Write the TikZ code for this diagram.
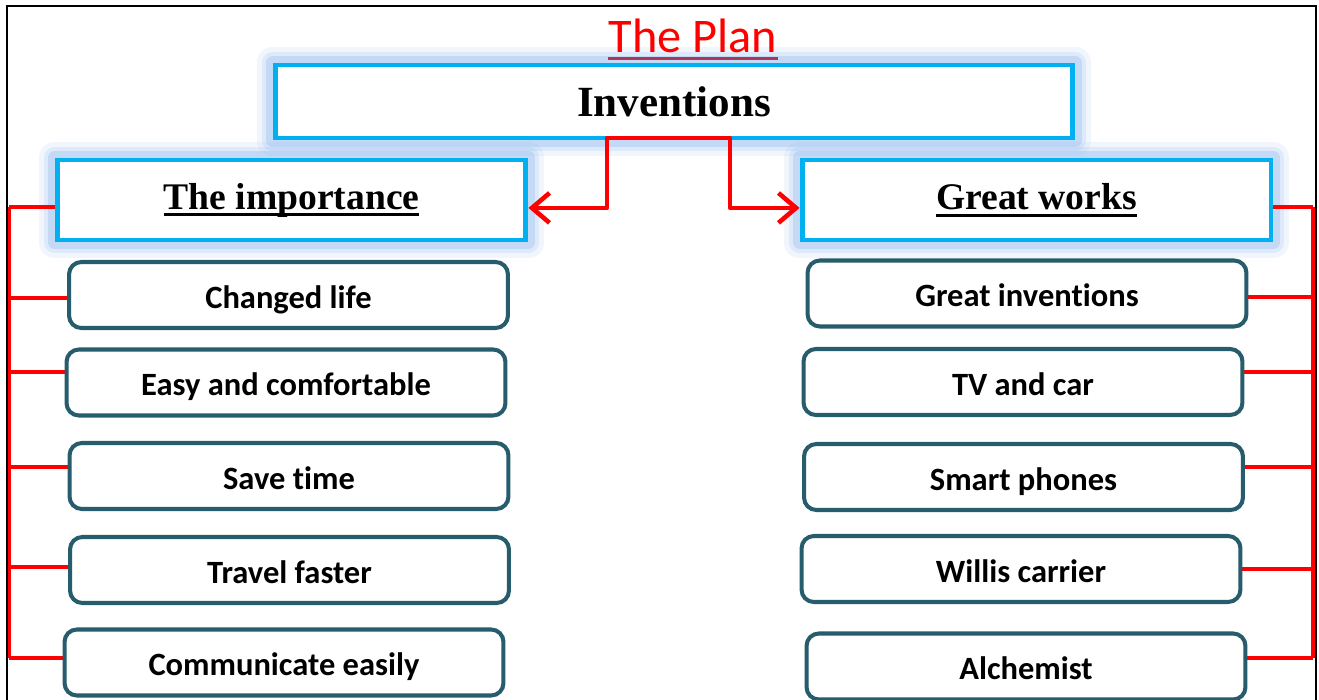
\documentclass[tikz,border=0pt]{standalone}
\usepackage{fontspec}
\setmainfont{Liberation Serif}
\newfontfamily\calibri[Ligatures=NoCommon]{Carlito}
\newcommand*{\undl}[1]{\setbox0\hbox{#1}\rlap{\rule[-4pt]{\wd0}{1.7pt}}\box0}
\usetikzlibrary{positioning,arrows.meta,backgrounds}
\tikzset{>=stealth}
\definecolor{boxblue}{RGB}{0,176,240}
\definecolor{glowblue}{RGB}{120,170,235}
\definecolor{tealline}{RGB}{38,92,108}
\definecolor{planline}{RGB}{170,55,90}
\tikzset{
  headbox/.style={draw=boxblue,line width=2.8pt,fill=white,inner sep=0pt,
    font=\bfseries\fontsize{21.4}{23}\selectfont},
  itembox/.style={draw=tealline,line width=2.3pt,rounded corners=7pt,fill=white,
    minimum width=8.78cm,minimum height=1.32cm,inner sep=0pt,
    text height=16pt,text depth=1.2pt,
    font=\calibri\bfseries\fontsize{18.5}{20}\selectfont},
  redline/.style={red,line width=2.6pt},
  barbs/.style={{Straight Barb[length=10pt,width=17pt]}-{Straight Barb[length=10pt,width=17pt]}},
}

\begin{document}
\begin{tikzpicture}[x=0.02cm,y=-0.02cm]
\useasboundingbox (0,0) rectangle (1319,700);
% Draw frame
\draw[line width=1.1pt] (7,700) -- (7,6) -- (1316,6) -- (1316,700);

% Draw title
\node[red,inner sep=0pt,anchor=base,font=\calibri\fontsize{27.5}{29}\selectfont]
  (plan) at (693,52) {The Plan};
\draw[planline,line width=1.7pt] ([yshift=-3.5pt]plan.base west) --
  ([yshift=-3.5pt]plan.base east);

% Draw header boxes
\node[headbox,minimum width=15.96cm,minimum height=1.46cm,
  font=\bfseries\fontsize{24.5}{26}\selectfont] (inv) at (674,101.5) {Inventions};
\node[headbox,minimum width=9.38cm,minimum height=1.6cm]
  (imp) at (291.5,200) {\undl{The importance}};
\node[headbox,minimum width=9.38cm,minimum height=1.6cm]
  (gw) at (1036.5,200) {\undl{Great works}};

% Draw item boxes
\foreach \n/\x/\y/\t in {imp1/288.5/295/Changed life,
    imp2/286/382.5/Easy and comfortable,imp3/289/476/Save time,
    imp4/289.5/570/Travel faster,imp5/284/662.5/Communicate easily}
  \node[itembox] (\n) at (\x,\y) {\t};
\foreach \n/\x/\y/\t in {gw1/1027/293.5/Great inventions,
    gw2/1023/382/TV and car,gw3/1023.5/477/Smart phones,
    gw4/1021/569/Willis carrier,gw5/1026/666.5/Alchemist}
  \node[itembox] (\n) at (\x,\y) {\t};

\begin{scope}[on background layer]
% Draw glow round header boxes
\foreach \b in {inv,imp,gw}
  \foreach \w/\o in {18/0.1,12/0.16,7/0.26}
    \draw[glowblue,line width=\w pt,opacity=\o,line join=round]
      (\b.south west) rectangle (\b.north east);
% Draw left bracket
\draw[redline] (9,207) -- (9,658);
\draw[redline] (9,207) -- (imp.west |- 9,207);
\foreach \n/\l in {imp1/298,imp2/372,imp3/467,imp4/567,imp5/658}
  \draw[redline] (9,\l) -- (\n.west |- 9,\l);
% Draw right bracket
\draw[redline] (1313,207) -- (1313,658);
\draw[redline] (1313,207) -- (gw.east |- 1313,207);
\foreach \n/\l in {gw1/297,gw2/372,gw3/467,gw4/569,gw5/658}
  \draw[redline] (1313,\l) -- (\n.east |- 1313,\l);
\end{scope}

% Draw arrows from top box
\coordinate (invl) at (607,138);
\coordinate (invr) at (730,138);
\draw[redline,barbs,line join=round] ([yshift=-4.5pt]imp.east) -| (invl) --
  (invr) |- ([yshift=-4.5pt]gw.west);
\end{tikzpicture}
\end{document}
